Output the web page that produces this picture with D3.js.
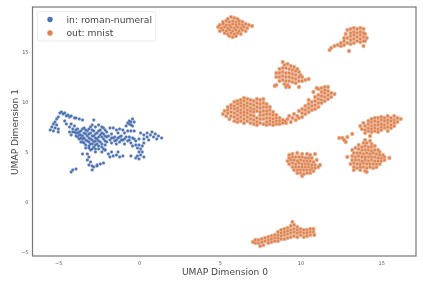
<!DOCTYPE html>
<html>
<head>
<meta charset="utf-8">
<script src="https://cdn.jsdelivr.net/npm/d3@7/dist/d3.min.js"></script>
<style>
html, body { margin: 0; padding: 0; background: #fff; }
text { font-family: "DejaVu Sans", sans-serif; }
svg { filter: blur(0.3px); }
</style>
</head>
<body>
<script>
// points, cluster by cluster, in UMAP coordinates
var romanNumeral = [
[-5.5,7.2],[-5.4,7.5],[-5.3,7.1],[-5.2,7.4],[-5.3,7.8],[-5.2,8.0],[-5.1,8.3],[-5.0,8.5],[-5.1,7.7],[-5.0,7.0],[-5.0,7.3],
[-4.9,8.9],[-4.8,9.0],[-4.7,8.8],[-4.6,8.9],[-4.5,8.6],[-4.4,8.7],[-4.3,8.5],[-4.2,8.6],[-4.0,8.4],[-3.9,8.4],[-3.7,8.3],[-3.5,8.2],[-2.8,8.2],
[-4.6,8.1],[-4.5,7.8],[-4.3,7.5],[-4.2,7.8],[-4.1,7.3],[-4.0,7.6],[-4.3,7.0],[-4.2,6.7],[-4.0,7.0],[-3.9,6.6],[-3.8,7.3],[-3.8,6.9],
[-3.7,6.3],[-3.6,7.1],[-3.6,6.7],[-3.5,6.0],[-3.4,7.4],[-3.4,6.9],[-3.4,6.4],[-3.3,5.7],[-3.2,7.1],[-3.2,6.6],[-3.2,6.1],[-3.1,5.4],
[-3.0,7.5],[-3.0,6.9],[-3.0,6.3],[-3.0,5.8],[-3.0,5.2],[-2.9,7.7],[-2.8,7.1],[-2.8,6.6],[-2.8,6.0],[-2.8,5.5],[-2.7,5.0],[-2.7,7.5],
[-2.6,6.9],[-2.6,6.3],[-2.6,5.8],[-2.5,5.3],[-2.5,7.7],[-2.4,7.2],[-2.4,6.7],[-2.4,6.0],[-2.3,5.5],[-2.3,5.0],[-2.2,7.4],[-2.2,6.8],
[-2.2,6.3],[-2.1,5.7],[-2.1,5.2],[-2.0,7.0],[-2.0,6.5],[-2.0,6.0],[-3.5,6.6],[-3.7,6.7],[-2.9,6.6],[-2.7,6.1],[-3.1,6.8],[-3.3,6.2],
[-4.1,7.0],[-3.9,7.2],[-3.7,7.0],[-3.9,6.9],[-3.8,6.5],[-3.6,6.4],[-3.6,6.0],[-3.5,7.3],[-3.5,6.3],[-3.4,5.9],[-3.3,7.2],[-3.3,6.8],[-3.3,5.4],
[-3.1,7.3],[-3.1,6.4],[-3.1,6.0],[-3.1,5.6],[-2.9,7.2],[-2.9,6.2],[-2.9,5.8],[-2.9,5.3],[-2.7,6.8],[-2.7,6.4],[-2.7,5.7],[-2.7,5.3],
[-2.5,6.5],[-2.5,6.1],[-2.5,5.6],[-2.5,7.1],[-2.3,7.5],[-2.3,6.9],[-2.3,6.5],[-2.3,5.8],[-2.2,5.3],[-2.1,6.1],[-2.1,6.6],[-2.1,7.2],
[-3.2,4.8],[-3.1,4.5],[-3.2,4.2],[-3.0,4.0],[-3.1,3.7],[-2.9,3.6],[-2.9,3.2],[-2.8,3.5],[-2.6,3.6],[-2.4,3.8],[-2.2,3.9],[-2.6,3.7],
[-4.2,3.0],[-4.1,3.2],[-3.9,3.3],[-3.5,4.8],
[-1.9,6.6],[-1.8,6.2],[-1.7,5.9],[-1.6,6.4],[-1.5,6.1],[-1.4,5.8],[-1.3,6.4],[-1.2,6.0],[-1.1,6.6],[-1.0,6.2],[-0.9,5.8],[-0.8,6.5],[-0.7,6.1],
[-0.6,6.5],[-0.5,5.9],[-0.4,5.6],[-0.3,6.3],[-0.2,5.7],[0.0,6.3],[-1.8,7.4],[-1.6,7.4],[-1.4,7.2],[-1.2,7.3],[-1.0,7.2],[-1.7,6.8],[-1.3,6.9],[-0.9,6.9],
[-1.7,6.4],[-1.5,6.5],[-1.4,6.2],[-1.2,6.5],[-1.1,6.2],[-0.9,6.3],[-0.6,6.2],[-0.4,6.4],[-0.2,6.1],
[-0.8,7.6],[-0.7,7.9],[-0.6,8.1],[-0.5,7.7],[-0.4,8.3],[-0.3,8.0],[-0.4,7.6],[-0.7,7.1],[-0.5,7.1],[-0.3,7.1],[-0.6,7.8],[-0.5,8.0],
[0.1,6.9],[0.3,6.7],[0.3,6.3],[0.5,6.9],[0.5,6.5],[0.6,6.2],[0.7,6.7],[0.8,7.0],[0.9,6.5],[1.0,6.8],[1.1,6.3],[1.2,6.6],[1.4,6.4],
[0.3,5.9],[0.2,5.6],[0.1,5.3],[0.0,5.7],[0.0,5.0],[-0.1,5.4],[0.2,5.0],[0.1,4.7],[-0.1,4.6],[0.0,4.3],[-0.2,4.4],[0.3,4.5],[-0.5,4.6],
[-2.1,5.2],[-1.9,4.8],[-1.8,4.5],[-1.7,5.0],[-1.6,4.6],[-1.4,4.7],[-1.3,5.0],[-1.2,4.5],[-1.0,4.6]
];
var clusterA = [
[5.5,18.3],[5.7,18.5],[5.9,18.4],[6.1,18.3],
[5.2,18.0],[5.4,18.1],[5.6,18.0],[5.8,18.1],[6.0,18.0],[6.2,18.1],[6.4,18.0],
[5.0,17.7],[5.2,17.8],[5.4,17.7],[5.6,17.7],[5.8,17.8],[6.0,17.7],[6.2,17.8],[6.4,17.7],[6.6,17.8],[6.8,17.7],
[4.9,17.5],[5.1,17.4],[5.3,17.5],[5.5,17.4],[5.7,17.5],[5.9,17.4],[6.1,17.5],[6.3,17.4],[6.5,17.5],[6.7,17.4],[7.0,17.6],
[5.0,17.1],[5.2,17.2],[5.4,17.1],[5.6,17.2],[5.8,17.1],[6.0,17.2],[6.2,17.1],[6.4,17.2],[6.6,17.1],
[5.3,16.9],[5.5,16.8],[5.7,16.9],[5.9,16.8],[6.1,16.9],[6.3,16.8],
[5.6,16.6],[5.8,16.5],[6.0,16.6]
];
var clusterB = [
[11.8,15.2],[11.9,15.4],[12.1,15.6],[12.3,15.7],[12.5,15.9],[12.7,16.1],[12.5,15.6],[12.7,15.7],
[13.0,15.1],[13.9,15.6],
[12.9,17.2],[12.8,16.8],[12.9,16.4],[12.9,15.9],[13.1,17.3],[13.1,16.9],[13.1,16.6],[13.1,16.2],[13.1,15.8],
[13.3,17.4],[13.3,17.0],[13.3,16.7],[13.3,16.3],[13.3,15.9],[13.5,17.3],[13.5,16.9],[13.5,16.5],[13.5,16.1],
[13.7,17.4],[13.7,17.0],[13.7,16.7],[13.7,16.3],[13.7,16.0],[13.9,17.3],[13.9,16.9],[13.9,16.5],[13.9,16.1],
[14.0,16.8],[14.1,16.4],[14.0,16.1],[12.7,16.4]
];
var clusterC = [
[8.9,14.0],[9.0,13.7],[9.2,13.8],[9.4,13.6],[9.6,13.5],[9.8,13.3],[8.7,13.3],[8.9,13.4],[9.1,13.4],[9.3,13.3],[9.5,13.2],[9.7,13.1],[9.9,13.0],[10.0,12.7],
[8.5,12.9],[8.7,12.9],[8.9,13.0],[9.1,12.9],[9.3,12.9],[9.5,12.8],[9.7,12.7],[9.9,12.5],[10.1,12.5],[10.3,12.2],[10.5,12.3],
[8.5,12.5],[8.7,12.5],[8.9,12.6],[9.1,12.5],[9.3,12.5],[9.5,12.4],[9.7,12.3],[9.9,12.1],[10.1,12.1],
[8.7,12.1],[8.9,12.2],[9.1,12.1],[9.3,12.1],[9.5,12.0],[9.7,11.9],[9.0,11.8],[9.2,11.7],[9.3,11.5],[9.1,11.5],[8.4,11.6],[8.5,11.7],[9.9,11.5]
];
var clusterD = [
[5.2,8.8],[5.3,9.1],[5.4,8.6],[5.5,9.5],[5.5,9.2],[5.5,8.9],[5.6,8.3],[5.7,9.7],[5.7,9.4],[5.7,9.0],[5.7,8.6],
[5.9,10.0],[5.9,9.6],[5.9,9.3],[5.9,8.9],[5.9,8.5],[5.9,8.1],[6.1,10.1],[6.1,9.8],[6.1,9.4],[6.1,9.1],[6.1,8.7],[6.1,8.3],[6.1,8.0],
[6.3,10.2],[6.3,9.9],[6.3,9.6],[6.3,9.2],[6.3,8.9],[6.3,8.5],[6.3,8.1],[6.5,10.4],[6.5,10.1],[6.5,9.7],[6.5,9.4],[6.5,9.0],[6.5,8.7],[6.5,8.3],[6.5,7.9],
[6.7,10.3],[6.7,9.9],[6.7,9.6],[6.7,9.2],[6.7,8.9],[6.7,8.5],[6.7,8.1],[6.9,10.2],[6.9,9.8],[6.9,9.4],[6.9,9.1],[6.9,8.7],[6.9,8.3],[6.9,7.9],
[7.1,10.1],[7.1,9.7],[7.1,9.3],[7.1,9.0],[7.1,8.6],[7.1,8.2],[7.1,7.8],[7.3,10.3],[7.3,9.9],[7.3,9.5],[7.3,9.1],[7.3,8.4],[7.3,8.0],[7.3,7.7],
[7.5,10.2],[7.5,9.8],[7.5,9.4],[7.5,9.0],[7.5,8.7],[7.5,8.3],[7.5,7.9],[7.7,10.3],[7.7,9.9],[7.7,9.5],[7.7,9.1],[7.7,8.7],[7.7,8.3],[7.7,7.8],
[7.9,9.8],[7.9,9.5],[7.9,9.1],[7.9,8.8],[7.9,8.4],[7.9,8.0],[7.9,7.7],[8.1,9.5],[8.1,9.2],[8.1,8.8],[8.1,8.4],[8.1,8.1],[8.1,7.8],
[8.3,9.0],[8.3,8.7],[8.3,8.3],[8.3,8.0],[8.3,7.7],[8.5,8.7],[8.5,8.4],[8.5,8.1],[8.5,7.8],[8.7,8.4],[8.7,8.1],[8.7,7.8],[8.9,8.2],[8.9,7.9],[9.05,8.1]
];
var clusterE = [
[9.1,7.9],[9.2,8.3],[9.3,8.6],[9.4,8.0],[9.5,8.4],[9.6,8.8],[9.7,8.2],[9.8,8.6],[9.9,9.1],[9.9,8.4],[10.1,8.5],[10.1,8.9],[10.1,9.3],
[10.3,8.8],[10.3,9.2],[10.3,9.6],[10.5,9.0],[10.5,9.4],[10.5,9.8],[10.5,10.2],[10.7,9.2],[10.7,9.6],[10.7,10.0],[10.9,9.3],[10.9,9.7],[10.9,10.1],[10.9,10.5],[10.8,11.0],
[11.1,9.5],[11.1,9.9],[11.1,10.3],[11.1,10.7],[11.1,11.3],[11.0,11.4],[11.3,9.9],[11.3,10.2],[11.3,10.6],[11.3,11.0],[11.3,11.4],
[11.5,10.1],[11.5,10.5],[11.5,10.9],[11.5,11.2],[11.7,10.3],[11.7,10.7],[11.7,11.1],[11.9,10.5],[11.9,10.9],[12.1,10.8],[11.7,11.5],[11.5,11.5]
];
var clusterF = [
[12.4,6.4],[12.6,6.4],[12.7,6.2],[12.9,6.5],[12.8,6.0],[13.2,6.8],
[13.7,7.6],[13.8,7.3],[13.9,7.9],[14.0,7.6],[14.0,7.2],[14.0,6.9],[14.2,8.1],[14.2,7.8],[14.2,7.4],[14.2,7.1],[14.3,6.6],
[14.4,8.3],[14.4,8.0],[14.4,7.6],[14.4,7.3],[14.4,7.0],[14.6,8.4],[14.6,8.1],[14.6,7.7],[14.6,7.4],[14.6,7.1],
[14.8,8.4],[14.8,8.0],[14.8,7.7],[14.8,7.3],[14.8,7.0],[15.0,8.5],[15.0,8.2],[15.0,7.8],[15.0,7.5],[15.0,7.2],
[15.2,8.4],[15.2,8.1],[15.2,7.7],[15.2,7.4],[15.4,8.6],[15.4,8.2],[15.4,7.9],[15.4,7.5],[15.4,7.1],
[15.6,8.4],[15.6,8.1],[15.6,7.7],[15.6,7.4],[15.8,8.6],[15.8,8.2],[15.8,7.9],[15.8,7.6],[16.0,8.4],[16.0,8.0],[16.2,8.3]
];
var clusterG = [
[14.0,6.2],[14.3,6.1],[13.9,5.9],[14.1,5.9],[14.4,5.8],[13.6,5.7],[13.8,5.5],[14.0,5.6],[14.2,5.5],[14.4,5.5],[14.6,5.6],
[13.2,5.2],[13.4,5.4],[13.6,5.3],[13.8,5.2],[14.0,5.2],[14.2,5.2],[14.4,5.1],[14.6,5.2],[14.8,5.2],[14.9,5.0],
[13.3,4.9],[13.5,4.9],[13.7,4.9],[13.9,4.8],[14.1,4.9],[14.3,4.8],[14.5,4.9],[14.7,4.8],[14.9,4.7],[15.1,4.7],
[12.9,4.5],[13.2,4.6],[13.4,4.5],[13.6,4.6],[13.8,4.5],[14.0,4.5],[14.2,4.5],[14.4,4.5],[14.6,4.5],[14.8,4.4],[15.0,4.4],[15.2,4.5],[15.5,4.4],
[13.2,4.2],[13.4,4.2],[13.6,4.2],[13.8,4.1],[14.0,4.2],[14.2,4.1],[14.4,4.2],[14.6,4.1],[14.8,4.1],[15.0,4.1],[15.2,4.2],
[13.1,3.8],[13.3,3.9],[13.5,3.8],[13.7,3.8],[13.9,3.9],[14.1,3.8],[14.3,3.8],[14.5,3.8],[14.7,3.8],[14.9,3.8],
[13.3,3.5],[13.5,3.4],[13.7,3.5],[13.9,3.5],[14.1,3.4],[14.3,3.5],[14.5,3.4],[14.7,3.5],[13.7,3.2],[14.0,3.1],[14.1,3.0],[13.3,3.2]
];
var clusterH = [
[9.3,4.7],[9.5,4.8],[9.8,4.9],[10.1,4.8],[10.4,4.8],[10.6,4.7],[10.9,4.8],
[9.3,4.4],[9.5,4.5],[9.7,4.5],[9.9,4.5],[10.1,4.5],[10.3,4.4],[10.5,4.4],[10.7,4.4],
[9.2,4.1],[9.4,4.2],[9.6,4.2],[9.8,4.1],[10.0,4.2],[10.2,4.1],[10.4,4.1],[10.6,4.1],[10.8,4.0],[11.0,4.2],
[9.3,3.8],[9.5,3.9],[9.7,3.8],[9.9,3.9],[10.1,3.8],[10.3,3.8],[10.5,3.8],[10.7,3.7],[10.9,3.7],[11.2,3.7],
[9.5,3.5],[9.7,3.5],[9.9,3.5],[10.1,3.5],[10.3,3.5],[10.5,3.5],[10.7,3.4],[10.9,3.4],[11.1,3.5],
[9.6,3.2],[9.8,3.2],[10.0,3.2],[10.2,3.2],[10.4,3.2],[10.6,3.2],[10.8,3.1],
[9.8,2.9],[10.0,2.9],[10.2,2.8],[10.4,2.9],[10.6,2.9],[10.1,2.6]
];
var clusterI = [
[7.05,-4.0],[7.2,-3.8],[7.2,-4.1],[7.4,-3.8],[7.4,-4.1],[7.5,-4.4],[7.6,-3.7],[7.6,-4.0],[7.7,-4.3],[7.8,-3.6],[7.8,-3.9],[8.0,-3.5],[8.0,-3.8],[8.0,-4.1],
[8.2,-3.4],[8.2,-3.7],[8.2,-4.0],[8.4,-3.3],[8.4,-3.6],[8.4,-3.9],[8.6,-3.0],[8.6,-3.3],[8.6,-3.6],[8.6,-3.9],[8.8,-2.8],[8.8,-3.1],[8.8,-3.4],[8.8,-3.7],
[9.0,-2.7],[9.0,-3.0],[9.0,-3.3],[9.0,-3.7],[9.2,-2.6],[9.2,-2.9],[9.2,-3.2],[9.2,-3.6],[9.4,-2.4],[9.4,-2.8],[9.4,-3.1],[9.4,-3.5],
[9.5,-2.0],[9.6,-2.3],[9.6,-2.7],[9.6,-3.0],[9.6,-3.4],[9.8,-2.5],[9.8,-2.8],[9.8,-3.1],[9.8,-3.5],[10.0,-2.7],[10.0,-3.0],[10.0,-3.3],
[10.2,-2.8],[10.2,-3.1],[10.2,-3.5],[10.4,-2.8],[10.4,-3.1],[10.4,-3.4],[10.6,-2.7],[10.6,-3.0],[10.6,-3.3],[10.8,-2.7],[10.8,-3.0],[10.85,-3.3]
];
var mnist = clusterA.concat(clusterB, clusterC, clusterD, clusterE, clusterF, clusterG, clusterH, clusterI);

var xTicks = [-5, 0, 5, 10, 15];
var yTicks = [-5, 0, 5, 10, 15];
var legendNames = ["in: roman-numeral", "out: mnist"];

var width = 423,
    height = 281,
    left = 32.5,
    right = 416,
    top_ = 7,
    bottom = 256;

var blue = "#4c72b0",
    orange = "#dd8452";

var x = d3.scaleLinear().domain([-6.595, 17.15]).range([left, right]);
var y = d3.scaleLinear().domain([-5.4, 19.5]).range([bottom, top_]);

var svg = d3.select("body").append("svg")
    .attr("width", width)
    .attr("height", height)
    .style("display", "block");

// each point gets a pale halo under it, the dots in the picture melt together like that
function drawPoints(data, color, pale, r, halo) {
  var g = svg.append("g");
  g.append("g").selectAll("circle")
      .data(data)
    .enter().append("circle")
      .attr("cx", function(d) { return x(d[0]); })
      .attr("cy", function(d) { return y(d[1]); })
      .attr("r", halo)
      .attr("fill", pale);
  g.append("g").selectAll("circle")
      .data(data)
    .enter().append("circle")
      .attr("cx", function(d) { return x(d[0]); })
      .attr("cy", function(d) { return y(d[1]); })
      .attr("r", r)
      .attr("fill", color);
}
drawPoints(romanNumeral, blue, "#8ea5cf", 1.15, 1.75);
drawPoints(mnist, orange, "#ebb596", 1.25, 2.2);

// axes: no tick marks, only small labels
var xAxis = svg.append("g")
    .attr("transform", "translate(0," + bottom + ")")
    .call(d3.axisBottom(x).tickValues(xTicks).tickSize(0).tickPadding(5).tickFormat(function(d) { return d < 0 ? "\u2212" + (-d) : d; }));
var yAxis = svg.append("g")
    .attr("transform", "translate(" + left + ",0)")
    .call(d3.axisLeft(y).tickValues(yTicks).tickSize(0).tickPadding(4).tickFormat(function(d) { return d < 0 ? "\u2212" + (-d) : d; }));
svg.selectAll(".domain").remove();
svg.selectAll(".tick text")
    .style("font-family", '"DejaVu Sans", sans-serif')
    .style("font-size", "5px")
    .attr("fill", "#555");

// frame
svg.append("rect")
    .attr("x", left)
    .attr("y", top_)
    .attr("width", right - left)
    .attr("height", bottom - top_)
    .attr("fill", "none")
    .attr("stroke", "#777")
    .attr("stroke-width", 1.2);

svg.append("text")
    .attr("x", 225)
    .attr("y", 275)
    .attr("text-anchor", "middle")
    .attr("font-size", 9.1)
    .attr("fill", "#444")
    .text("UMAP Dimension 0");
svg.append("text")
    .attr("transform", "translate(18,132) rotate(-90)")
    .attr("text-anchor", "middle")
    .attr("font-size", 9.1)
    .attr("fill", "#444")
    .text("UMAP Dimension 1");

// legend
var legend = svg.append("g");
legend.append("rect")
    .attr("x", 37.5)
    .attr("y", 11.5)
    .attr("width", 118)
    .attr("height", 29.5)
    .attr("rx", 1.5)
    .attr("fill", "#fff")
    .attr("stroke", "#e4e4e4")
    .attr("stroke-width", 0.7);
legendNames.forEach(function(name, i) {
  legend.append("circle")
      .attr("cx", 50)
      .attr("cy", 19.5 + i * 13.5)
      .attr("r", 2.7)
      .attr("fill", i === 0 ? blue : orange);
  legend.append("text")
      .attr("x", 66.5)
      .attr("y", 22.5 + i * 13.5)
      .attr("font-size", 9.2)
      .attr("fill", "#444")
      .text(name);
});
</script>
</body>
</html>
